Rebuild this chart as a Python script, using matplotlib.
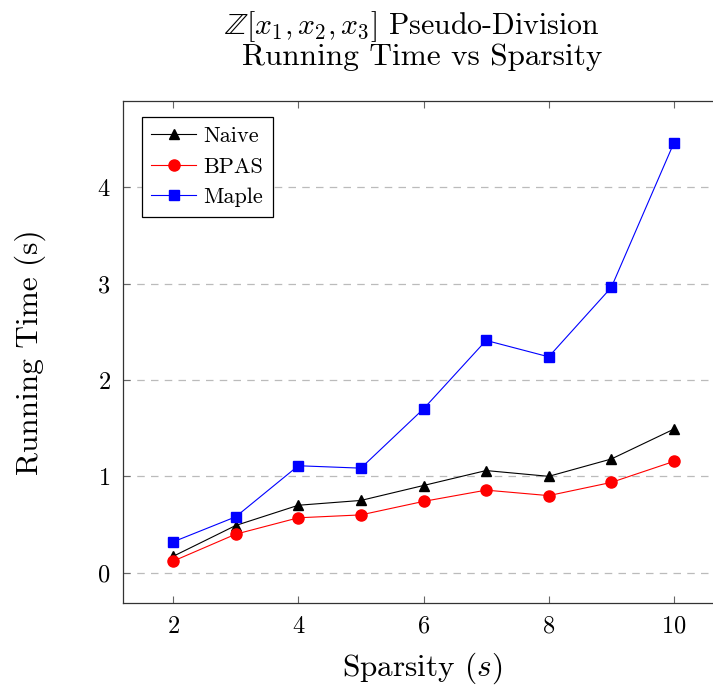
import matplotlib
matplotlib.use("Agg")
from matplotlib import pyplot as plt

plt.rcParams['font.family'] = 'serif'
plt.rcParams['font.serif'] = ['cmr10']
plt.rcParams['mathtext.fontset'] = 'cm'
plt.rcParams['axes.formatter.use_mathtext'] = True

# data
sparsity = [2, 3, 4, 5, 6, 7, 8, 9, 10]
naive = [0.17, 0.49, 0.70, 0.75, 0.905, 1.06, 1.00, 1.18, 1.49]
bpas = [0.12, 0.40, 0.57, 0.60, 0.74, 0.857, 0.80, 0.937, 1.155]
maple = [0.32, 0.58, 1.11, 1.085, 1.70, 2.41, 2.24, 2.96, 4.46]

fig = plt.figure(figsize=(7.13, 6.89), dpi=100)
# axes runs past the right edge like the original crop
ax = fig.add_axes([123 / 713, 1 - 603 / 689, (724 - 123) / 713, (603 - 101) / 689])

ax.plot(sparsity, naive, color='black', marker='^', markersize=7.5, linewidth=0.8, label='Naive')
ax.plot(sparsity, bpas, color='red', marker='o', markersize=8, linewidth=0.8, label='BPAS')
ax.plot(sparsity, maple, color='blue', marker='s', markersize=7.5, linewidth=0.8, label='Maple')

ax.set_xlim(1.2, 10.8)
ax.set_ylim(-0.314, 4.894)
ax.set_xticks([2, 4, 6, 8, 10])
ax.set_yticks([0, 1, 2, 3, 4])
ax.tick_params(direction='in', length=5, color='#666666', labelsize=17.5,
               top=True, right=True, pad=9)
ax.yaxis.grid(True, linestyle=(0, (6, 5)), color='#bbbbbb', linewidth=0.9)
ax.set_axisbelow(True)
for s in ax.spines.values():
    s.set_color('#333333')
    s.set_linewidth(0.9)

ax.set_xlabel('Sparsity ($s$)', fontsize=22.5)
ax.set_ylabel('Running Time (s)', fontsize=22.5)
ax.xaxis.label.set_va('center')
ax.yaxis.label.set_va('center')
ax.xaxis.set_label_coords((422 - 123) / 601, (603 - 668) / 502)
ax.yaxis.set_label_coords((30 - 123) / 601, 0.5)

fig.text(412 / 713, 1 - 27 / 689, r'$\mathbb{Z}[x_1,x_2,x_3]$ Pseudo-Division',
         fontsize=21.5, ha='center', va='center')
fig.text(422 / 713, 1 - 57 / 689, 'Running Time vs Sparsity',
         fontsize=22.5, ha='center', va='center')

leg = ax.legend(loc='upper left', bbox_to_anchor=(19 / 601, 1 - 16 / 502), fontsize=16,
                fancybox=False, framealpha=1, edgecolor='black', borderaxespad=0,
                borderpad=0.42, labelspacing=0.5, handlelength=2.0,
                handletextpad=0.35)
leg.get_frame().set_linewidth(0.9)

plt.savefig('out.png', dpi=100)
